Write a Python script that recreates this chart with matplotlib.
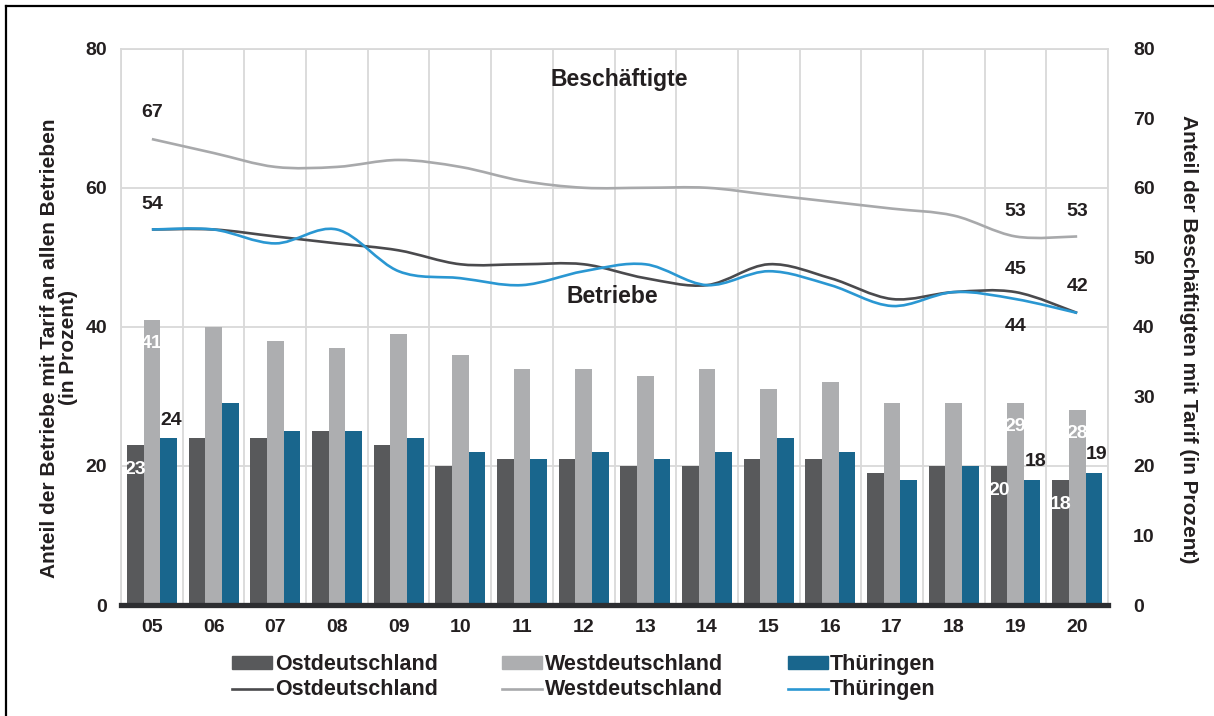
import numpy as np
import matplotlib
matplotlib.use("Agg")
import matplotlib.pyplot as plt
from matplotlib.path import Path
from matplotlib.patches import PathPatch, Patch
from matplotlib.lines import Line2D

plt.rcParams['font.family'] = ['Liberation Sans', 'DejaVu Sans']
plt.rcParams['font.weight'] = 'bold'
plt.rcParams['axes.labelweight'] = 'bold'

years = ['05', '06', '07', '08', '09', '10', '11', '12',
         '13', '14', '15', '16', '17', '18', '19', '20']

# Betriebe (bars, left axis)
bar_ost = [23, 24, 24, 25, 23, 20, 21, 21, 20, 20, 21, 21, 19, 20, 20, 18]
bar_west = [41, 40, 38, 37, 39, 36, 34, 34, 33, 34, 31, 32, 29, 29, 29, 28]
bar_thue = [24, 29, 25, 25, 24, 22, 21, 22, 21, 22, 24, 22, 18, 20, 18, 19]

# Beschaeftigte (lines, right axis)
line_ost = [54, 54, 53, 52, 51, 49, 49, 49, 47, 46, 49, 47, 44, 45, 45, 42]
line_west = [67, 65, 63, 63, 64, 63, 61, 60, 60, 60, 59, 58, 57, 56, 53, 53]
line_thue = [54, 54, 52, 54, 48, 47, 46, 48, 49, 46, 48, 46, 43, 45, 44, 42]

c_ost, c_west, c_thue = '#58595b', '#adaeb0', '#19668d'
l_ost, l_west, l_thue = '#4a4a4d', '#a8a9ab', '#2a97d2'
txt = '#231f20'


def smooth_path(xs, ys):
    # Bezier path through the points (Excel-like smoothed line)
    p = np.column_stack([xs, ys]).astype(float)
    ext = np.vstack([p[0], p, p[-1]])
    verts = [tuple(p[0])]
    codes = [Path.MOVETO]
    for i in range(len(p) - 1):
        a, b, c, d = ext[i], ext[i + 1], ext[i + 2], ext[i + 3]
        verts += [tuple(b + (c - a) / 6), tuple(c - (d - b) / 6), tuple(c)]
        codes += [Path.CURVE4] * 3
    return Path(verts, codes)


fig = plt.figure(figsize=(12.14, 7.16), dpi=100)
ax = fig.add_axes([0.0997, 0.155, 0.813, 0.777])
x = np.arange(len(years))
w = 0.27

ax.bar(x - w, bar_ost, w, color=c_ost, zorder=2)
ax.bar(x, bar_west, w, color=c_west, zorder=2)
ax.bar(x + w, bar_thue, w, color=c_thue, zorder=2)

ax.set_xlim(-0.5, len(years) - 0.5)
ax.set_ylim(0, 80)
ax.set_yticks([0, 20, 40, 60, 80])
ax.set_xticks(x)
ax.set_xticklabels(years)
ax.tick_params(length=0, labelsize=14, colors=txt, pad=10)
ax.set_xticks(np.arange(-0.5, len(years)), minor=True)
ax.tick_params(which='minor', length=0)
ax.grid(True, which='minor', axis='x', color='#d9d9d9', lw=1.3, zorder=0)
ax.grid(True, which='major', axis='y', color='#d9d9d9', lw=1.3, zorder=0)
for s in ['top', 'right', 'left']:
    ax.spines[s].set_color('#d9d9d9')
    ax.spines[s].set_linewidth(1.3)
ax.spines['bottom'].set_color('#2d2e31')
ax.spines['bottom'].set_linewidth(3.8)
ax.spines['bottom'].set_zorder(5)
ax.set_ylabel('Anteil der Betriebe mit Tarif an allen Betrieben\n(in Prozent)',
              fontsize=15, color=txt, linespacing=1.0)
ax.yaxis.set_label_coords(-0.044, 0.462)

ax2 = ax.twinx()
ax2.set_ylim(0, 80)
ax2.set_yticks(np.arange(0, 81, 10))
ax2.tick_params(length=0, labelsize=14, colors=txt, pad=18)
for s in ax2.spines.values():
    s.set_visible(False)
ax2.set_ylabel('Anteil der Beschäftigten mit Tarif (in Prozent)', fontsize=15,
               color=txt, rotation=-90)
ax2.yaxis.set_label_coords(1.091, 0.477)

for vals, col in [(line_west, l_west), (line_ost, l_ost), (line_thue, l_thue)]:
    ax2.add_patch(PathPatch(smooth_path(x, vals), fill=False, edgecolor=col,
                            lw=1.9, zorder=3))


def lab(a, xi, yi, s, color=txt):
    a.text(xi, yi, s, ha='center', va='center', fontsize=14, color=color, zorder=6)


lab(ax2, x[0], line_west[0] + 3.8, str(line_west[0]))
lab(ax2, x[0], line_ost[0] + 3.6, str(line_ost[0]))
lab(ax2, x[14], line_west[14] + 3.6, str(line_west[14]))
lab(ax2, x[15], line_west[15] + 3.6, str(line_west[15]))
lab(ax2, x[14], line_ost[14] + 3.2, str(line_ost[14]))
lab(ax2, x[14], line_thue[14] - 4.0, str(line_thue[14]))
lab(ax2, x[15], line_ost[15] + 3.8, str(line_ost[15]))

for i in [0, 14, 15]:
    lab(ax, x[i] - w, bar_ost[i] - 3.5, str(bar_ost[i]), 'white')
    lab(ax, x[i], bar_west[i] - 3.4, str(bar_west[i]), 'white')
    lab(ax, x[i] + w + 0.05, bar_thue[i] + 2.6, str(bar_thue[i]))

ax2.text(7.58, 75.5, 'Beschäftigte', ha='center', va='center', fontsize=16.5, color=txt)
ax2.text(7.47, 44.3, 'Betriebe', ha='center', va='center', fontsize=16.5, color=txt)

handles = [Patch(color=c_ost), Line2D([], [], color=l_ost, lw=1.9),
           Patch(color=c_west), Line2D([], [], color=l_west, lw=1.9),
           Patch(color=c_thue), Line2D([], [], color=l_thue, lw=1.9)]
labels = ['Ostdeutschland', 'Ostdeutschland', 'Westdeutschland',
          'Westdeutschland', 'Thüringen', 'Thüringen']
leg = fig.legend(handles, labels, ncol=3, loc='center', bbox_to_anchor=(0.481, 0.054),
                 frameon=False, fontsize=15.5, handlelength=1.86, handletextpad=0.12,
                 columnspacing=3.0, labelspacing=0.2, handleheight=0.5)
for t in leg.get_texts():
    t.set_color(txt)

# outer frame (only top and left visible in the crop)
fig.add_artist(Line2D([6 / 1214, 1], [1 - 6 / 716] * 2, transform=fig.transFigure,
                      color='black', lw=1.6))
fig.add_artist(Line2D([6 / 1214] * 2, [0, 1 - 6 / 716], transform=fig.transFigure,
                      color='black', lw=1.6))

fig.savefig('out.png', dpi=100)
